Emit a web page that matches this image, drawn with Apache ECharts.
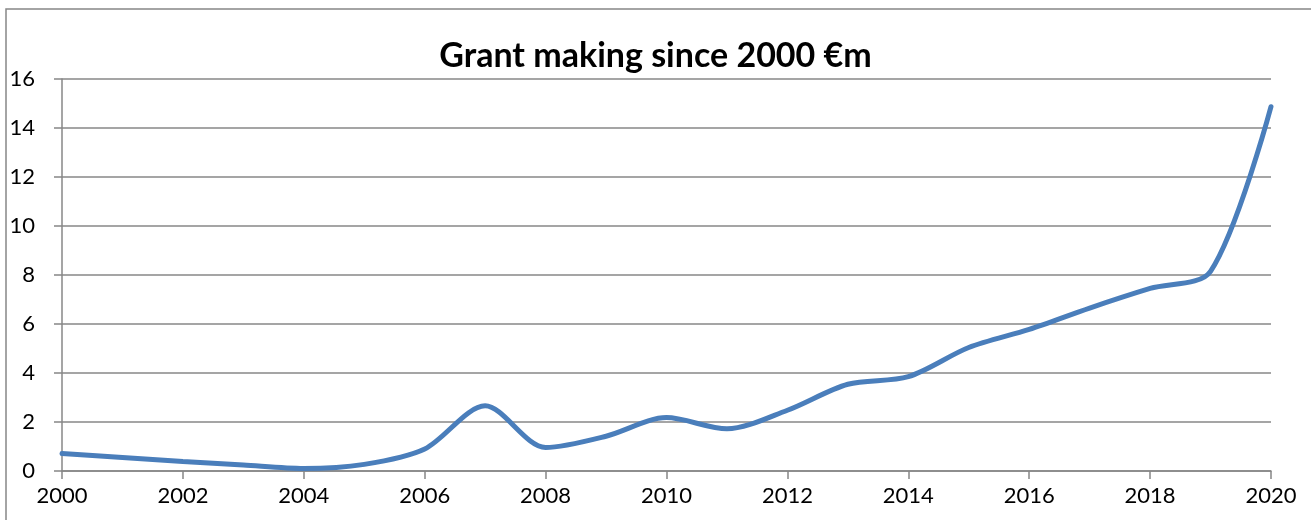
<!DOCTYPE html>
<html>
<head>
<meta charset="utf-8">
<script src="https://cdn.jsdelivr.net/npm/echarts@6/dist/echarts.min.js"></script>
<style>
html,body{margin:0;padding:0;background:#fff;}
#chart{width:1311px;height:520px;}
</style>
</head>
<body>
<div id="chart"></div>
<script>
const titleText = 'Grant making since 2000 €m';
const years = [2000,2001,2002,2003,2004,2005,2006,2007,2008,2009,2010,2011,2012,2013,2014,2015,2016,2017,2018,2019,2020];
const values = [0.71,0.55,0.39,0.24,0.1,0.27,0.9,2.66,0.96,1.42,2.18,1.72,2.48,3.54,3.85,5.04,5.78,6.65,7.45,8.15,14.87];
const yTicks = {min:0, max:16, interval:2};
const xTicks = {min:2000, max:2020, interval:2};

const chart = echarts.init(document.getElementById('chart'), null, {renderer:'canvas'});
const grey = '#878787';
chart.setOption({
  animation:false,
  backgroundColor:'#fff',
  title:{text:titleText, left:'center', top:34, textStyle:{fontFamily:'Lato', fontWeight:'bold', fontSize:34, color:'#000'}},
  graphic:[{type:'rect', shape:{x:6,y:9,width:1400,height:600}, style:{fill:'none', stroke:grey, lineWidth:1.5}, silent:true, z:-1}],
  grid:{left:62, right:40, top:79, bottom:49},
  xAxis:{type:'value', min:xTicks.min, max:xTicks.max, interval:xTicks.interval,
    axisLine:{show:true, lineStyle:{color:grey, width:1.5}},
    axisTick:{show:true, length:8, lineStyle:{color:grey, width:1.5}},
    splitLine:{show:false},
    axisLabel:{margin:14, fontFamily:'Lato', fontSize:22, color:'#000', formatter:v=>String(v)}},
  yAxis:{type:'value', min:yTicks.min, max:yTicks.max, interval:yTicks.interval,
    axisLine:{show:true, lineStyle:{color:grey, width:1.5}},
    axisTick:{show:true, length:8, lineStyle:{color:grey, width:1.5}},
    splitLine:{show:true, lineStyle:{color:grey, width:1.5}},
    axisLabel:{margin:27, fontFamily:'Lato', fontSize:22, color:'#000'}},
  series:[{type:'line', data:years.map((y,i)=>[y,values[i]]), smooth:0.3, showSymbol:false,
    lineStyle:{color:'#4A7EBB', width:5, cap:'round'}}]
});
</script>
</body>
</html>
